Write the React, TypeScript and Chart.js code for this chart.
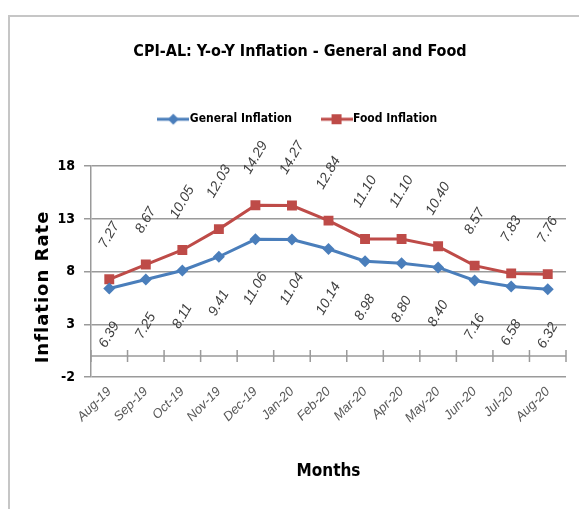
import { useEffect, useRef } from "react";
import { Chart, registerables } from "chart.js";

Chart.register(...registerables);

const months = ["Aug-19", "Sep-19", "Oct-19", "Nov-19", "Dec-19", "Jan-20", "Feb-20", "Mar-20", "Apr-20", "May-20", "Jun-20", "Jul-20", "Aug-20"];
const generalInflation = [6.39, 7.25, 8.11, 9.41, 11.06, 11.04, 10.14, 8.98, 8.8, 8.4, 7.16, 6.58, 6.32];
const foodInflation = [7.27, 8.67, 10.05, 12.03, 14.29, 14.27, 12.84, 11.1, 11.1, 10.4, 8.57, 7.83, 7.76];
const yMin = -2;
const yMax = 18;
const yStep = 5;

const chartTitle = "CPI-AL: Y-o-Y Inflation - General and Food";
const yTitle = "Inflation Rate";
const xTitle = "Months";

const BLUE = "#4a7ebb";
const RED = "#be4b48";
const NARROW = "'Liberation Sans Narrow', 'DejaVu Sans Condensed', sans-serif";
const LABEL_FONT = "'Liberation Sans', 'Open Sans', sans-serif";

function legendIcon(color: string, shape: "diamond" | "square") {
  const c = document.createElement("canvas");
  c.width = 32;
  c.height = 14;
  const ctx = c.getContext("2d")!;
  ctx.strokeStyle = color;
  ctx.lineWidth = 3;
  ctx.beginPath();
  ctx.moveTo(0, 7);
  ctx.lineTo(32, 7);
  ctx.stroke();
  ctx.fillStyle = color;
  if (shape === "diamond") {
    ctx.beginPath();
    ctx.moveTo(16, 1.5);
    ctx.lineTo(21.5, 7);
    ctx.lineTo(16, 12.5);
    ctx.lineTo(10.5, 7);
    ctx.closePath();
    ctx.fill();
  } else {
    ctx.fillRect(11, 2, 10, 10);
  }
  return c;
}

const valueLabels = {
  id: "valueLabels",
  afterDatasetsDraw(chart: any) {
    const ctx = chart.ctx;
    const ang = (60 * Math.PI) / 180;
    const size = 14;
    chart.data.datasets.forEach((ds: any, di: number) => {
      const meta = chart.getDatasetMeta(di);
      const below = di === 0;
      const dir = below ? 1 : -1;
      const gap = below ? 31 : 29;
      ctx.save();
      ctx.font = `italic ${size}px ${LABEL_FONT}`;
      ctx.fillStyle = "#404040";
      ctx.textAlign = "center";
      ctx.textBaseline = "middle";
      meta.data.forEach((pt: any, i: number) => {
        const txt = Number(ds.data[i]).toFixed(2);
        const w = ctx.measureText(txt).width;
        const half = (w * Math.sin(ang) + size * Math.cos(ang)) / 2;
        const cy = pt.y + dir * (gap + half);
        ctx.save();
        ctx.translate(pt.x, cy);
        ctx.rotate(-ang);
        ctx.fillText(txt, 0, 0);
        ctx.restore();
      });
      ctx.restore();
    });
  },
};

const zeroAxis = {
  id: "zeroAxis",
  beforeDatasetsDraw(chart: any) {
    const ctx = chart.ctx;
    const x = chart.scales.x;
    const y = chart.scales.y;
    const y0 = y.getPixelForValue(0);
    const { left, right } = chart.chartArea;
    const step = x.getPixelForValue(1) - x.getPixelForValue(0);
    ctx.save();
    ctx.strokeStyle = "#9a9a9a";
    ctx.lineWidth = 1.5;
    ctx.beginPath();
    ctx.moveTo(left, y0);
    ctx.lineTo(right, y0);
    const n = months.length;
    for (let i = 0; i <= n; i++) {
      const px = i < n ? x.getPixelForValue(i) - step / 2 : right;
      ctx.moveTo(px, y0 - 6);
      ctx.lineTo(px, y0 + 6);
    }
    ctx.stroke();
    ctx.restore();
  },
};

const yTitlePlugin = {
  id: "yTitlePlugin",
  afterDraw(chart: any) {
    const ctx = chart.ctx;
    ctx.save();
    ctx.translate(43, 287);
    ctx.rotate(-Math.PI / 2);
    ctx.font = "bold 18px 'DejaVu Sans', sans-serif";
    try {
      (ctx as any).letterSpacing = "1px";
    } catch (e) {}
    ctx.fillStyle = "#000";
    ctx.textAlign = "center";
    ctx.textBaseline = "middle";
    ctx.fillText(yTitle, 0, 0);
    ctx.restore();
  },
};

export default function App() {
  const ref = useRef<HTMLCanvasElement | null>(null);

  useEffect(() => {
    if (!ref.current) return;
    const icons = [legendIcon(BLUE, "diamond"), legendIcon(RED, "square")];
    const chart = new Chart(ref.current, {
      type: "line",
      data: {
        labels: months,
        datasets: [
          {
            label: "General Inflation",
            data: generalInflation,
            borderColor: BLUE,
            backgroundColor: BLUE,
            borderWidth: 3,
            pointStyle: "rectRot",
            pointRadius: 6,
            pointHoverRadius: 6,
            pointBorderWidth: 0,
            tension: 0,
          },
          {
            label: "Food Inflation",
            data: foodInflation,
            borderColor: RED,
            backgroundColor: RED,
            borderWidth: 3,
            pointStyle: "rect",
            pointRadius: 7,
            pointHoverRadius: 7,
            pointBorderWidth: 0,
            tension: 0,
          },
        ],
      },
      options: {
        responsive: false,
        animation: false,
        events: [],
        layout: { padding: { left: 34, right: 13, top: 0, bottom: 0 } },
        plugins: {
          title: {
            display: true,
            text: chartTitle,
            color: "#000",
            font: { family: NARROW, size: 16, weight: "bold", lineHeight: 1.2 },
            padding: { top: 42, bottom: 18 },
          },
          subtitle: {
            display: true,
            text: "",
            weight: 500,
            font: { size: 10, lineHeight: 1 },
            padding: { top: 0, bottom: 21 },
          },
          legend: {
            display: true,
            labels: {
              usePointStyle: true,
              pointStyleWidth: 21,
              boxHeight: 14,
              padding: 34,
              color: "#000",
              font: { family: NARROW, size: 12, weight: "bold" },
              generateLabels: (c: any) => {
                const base = (Chart.defaults.plugins.legend.labels as any).generateLabels(c);
                return base.map((l: any, i: number) => ({ ...l, pointStyle: icons[i], fontColor: "#000" }));
              },
            },
          },
          tooltip: { enabled: false },
        },
        scales: {
          x: {
            type: "category",
            offset: true,
            afterFit: (s: any) => {
              s.height = 132;
            },
            grid: { display: false, drawTicks: false, offset: true },
            border: { display: false },
            ticks: {
              minRotation: 45,
              maxRotation: 45,
              padding: 7,
              color: "#595959",
              font: { family: LABEL_FONT, size: 13, style: "italic" },
            },
            title: {
              display: true,
              text: xTitle,
              color: "#000",
              font: { family: NARROW, size: 17, weight: "bold", lineHeight: 1.2 },
              padding: { top: 0, bottom: 27 },
            },
          },
          y: {
            min: yMin,
            max: yMax,
            afterFit: (s: any) => {
              s.width = 57;
            },
            ticks: {
              stepSize: yStep,
              padding: 9,
              color: "#000",
              font: { family: NARROW, size: 14, weight: "bold" },
            },
            grid: { color: "#9a9a9a", lineWidth: 1.5, tickLength: 7, drawTicks: true },
            border: { display: true, color: "#9a9a9a", width: 1.5 },
          },
        },
      },
      plugins: [zeroAxis, valueLabels, yTitlePlugin],
    } as any);
    return () => chart.destroy();
  }, []);

  return (
    <div>
      <div
        style={{
          position: "fixed",
          left: 8,
          top: 15,
          width: 640,
          height: 600,
          borderLeft: "2px solid #c6c6c6",
          borderTop: "2px solid #c6c6c6",
          boxSizing: "border-box",
        }}
      />
      <canvas
        ref={ref}
        width={579}
        height={509}
        style={{ position: "fixed", left: 0, top: 0, width: 579, height: 509, display: "block" }}
      />
    </div>
  );
}
